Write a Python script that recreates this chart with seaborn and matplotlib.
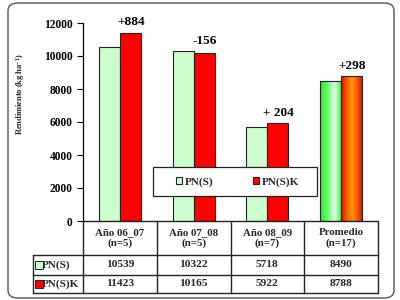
import numpy as np
import pandas as pd
import matplotlib
matplotlib.use("Agg")
import matplotlib.pyplot as plt
import matplotlib.transforms as mtransforms
from matplotlib.patches import Rectangle, FancyBboxPatch, Patch
from matplotlib.colors import LinearSegmentedColormap
import seaborn as sns

# ---------------- data ----------------
categories = ["Año 06_07", "Año 07_08", "Año 08_09", "Promedio"]
n_labels = ["(n=5)", "(n=5)", "(n=7)", "(n=17)"]
series = ["PN(S)", "PN(S)K"]
pns = [10539, 10322, 5718, 8490]
pnsk = [11423, 10165, 5922, 8788]
diff_labels = ["+884", "-156", "+ 204", "+298"]
yticks = [0, 2000, 4000, 6000, 8000, 10000, 12000]

# ---------------- style ----------------
sns.set_theme(style="white")
plt.rcParams['font.family'] = ['Liberation Serif', 'DejaVu Serif']
plt.rcParams['font.weight'] = 'bold'
plt.rcParams['mathtext.fontset'] = 'custom'
plt.rcParams['mathtext.rm'] = 'Liberation Serif:bold'
plt.rcParams['mathtext.default'] = 'rm'

green = "#CCFFCC"
red = "#FF0000"
edge = "#222222"

fig = plt.figure(figsize=(4, 3), dpi=100)
fig.patch.set_facecolor("white")
ax = fig.add_axes([83 / 400, 1 - 221 / 300, 295 / 400, 198 / 300])
ax.set_facecolor("white")

df = pd.DataFrame({
    "cat": categories * 2,
    "series": [series[0]] * len(categories) + [series[1]] * len(categories),
    "val": pns + pnsk,
})
sns.barplot(data=df, x="cat", y="val", hue="series", order=categories,
            hue_order=series, palette=[green, red], saturation=1,
            width=0.57, edgecolor=edge, linewidth=0.8, ax=ax, legend=False)

# gradient fill for the "Promedio" bars
bars = sorted([p for p in ax.patches if p.get_height() > 0], key=lambda p: p.get_x())
prom = [p for p in bars if p.get_x() + p.get_width() / 2 > len(categories) - 1.5]
grads = [["#22EE22", "#66FF66", "#E6FFE6", "#33EE33"],
         ["#CC1100", "#FF5500", "#FF9A00", "#FF5500", "#CC1100"]]
for p, cols in zip(prom, grads):
    cmap = LinearSegmentedColormap.from_list("g", cols)
    x0, w, h = p.get_x(), p.get_width(), p.get_height()
    im = ax.imshow(np.linspace(0, 1, 128).reshape(1, -1), cmap=cmap,
                   extent=[x0, x0 + w, 0, h], aspect="auto",
                   interpolation="bilinear", zorder=p.get_zorder() - 0.01)
    im.set_clip_path(p)
    p.set_facecolor("none")

ax.set_xlim(-0.5, len(categories) - 0.5)
ax.set_ylim(0, 12000)
ax.set_yticks(yticks)
ax.set_yticklabels([str(t) for t in yticks])
ax.set_xticks([])
ax.set_xlabel("")
ax.set_ylabel("Rendimiento (kg ha$^{-1}$)", fontsize=6, fontweight="bold")
ax.yaxis.set_label_coords(-0.19, 0.64)
ax.tick_params(axis="y", left=True, length=4, width=0.8, pad=3.5,
               labelsize=8.3, colors="black")
for s in ["top", "right", "bottom"]:
    ax.spines[s].set_visible(False)
ax.spines["left"].set_color("black")
ax.spines["left"].set_linewidth(0.9)

# difference annotations
for i, lab in enumerate(diff_labels):
    ymax = max(pns[i], pnsk[i])
    ax.text(i + 0.15, ymax + 250, lab, ha="center", va="bottom",
            fontsize=9.5, fontweight="bold", color="black")

# legend (boxed, inside plot)
ax.add_patch(Rectangle((0.237, 0.126), 0.556, 0.147, transform=ax.transAxes,
                       facecolor="white", edgecolor="#222222", lw=0.9,
                       zorder=8, clip_on=False))
handles = [Patch(facecolor=green, edgecolor=edge, lw=0.8),
           Patch(facecolor=red, edgecolor=edge, lw=0.8)]
leg = ax.legend(handles, series, ncol=2, loc="center left",
                bbox_to_anchor=(0.316, 0.197), frameon=False, borderpad=0,
                borderaxespad=0, handlelength=0.55, handleheight=0.55,
                handletextpad=0.2, columnspacing=3.6,
                prop={"family": "Liberation Serif", "weight": "bold", "size": 8})
leg.set_zorder(9)

# data table below the axes
tr = mtransforms.blended_transform_factory(ax.transData, ax.transAxes)
lc = "#222222"
xL = -1.178
xs = [-0.5 + k for k in range(len(categories) + 1)]
y_head, y_r1, y_r2 = -0.1717, -0.2727, -0.3636
ax.plot([xs[0], xs[-1]], [0, 0], color=lc, lw=1.0, transform=tr, clip_on=False)
for yy in [y_head, y_r1, y_r2]:
    ax.plot([xL, xs[-1]], [yy, yy], color=lc, lw=1.0, transform=tr, clip_on=False)
ax.plot([xL, xL], [y_head, y_r2], color=lc, lw=1.0, transform=tr, clip_on=False)
for xv in xs:
    ax.plot([xv, xv], [0, y_r2], color=lc, lw=1.0, transform=tr, clip_on=False)

for i, (c, n) in enumerate(zip(categories, n_labels)):
    ax.text(i, y_head / 2, c + "\n" + n, ha="center", va="center", fontsize=7.8,
            fontweight="bold", transform=tr, linespacing=1.25)
    ax.text(i, (y_head + y_r1) / 2, str(pns[i]), ha="center", va="center",
            fontsize=8.2, fontweight="bold", transform=tr)
    ax.text(i, (y_r1 + y_r2) / 2, str(pnsk[i]), ha="center", va="center",
            fontsize=8.2, fontweight="bold", transform=tr)

for yy, lab, col in [((y_head + y_r1) / 2, series[0], green),
                     ((y_r1 + y_r2) / 2, series[1], red)]:
    ax.plot([xL + 0.075], [yy], marker="s", markersize=5.5, markerfacecolor=col,
            markeredgecolor=edge, markeredgewidth=0.7, transform=tr, clip_on=False)
    ax.text(xL + 0.125, yy, lab, ha="left", va="center", fontsize=8,
            fontweight="bold", transform=tr)

# rounded outer frame
fig.patches.append(FancyBboxPatch((8 / 400, 2 / 300), 386 / 400, 295 / 300,
                                  boxstyle="round,pad=0,rounding_size=0.025",
                                  transform=fig.transFigure, facecolor="none",
                                  edgecolor="#555555", lw=1.0))

fig.savefig("out.png", dpi=100, facecolor="white")
